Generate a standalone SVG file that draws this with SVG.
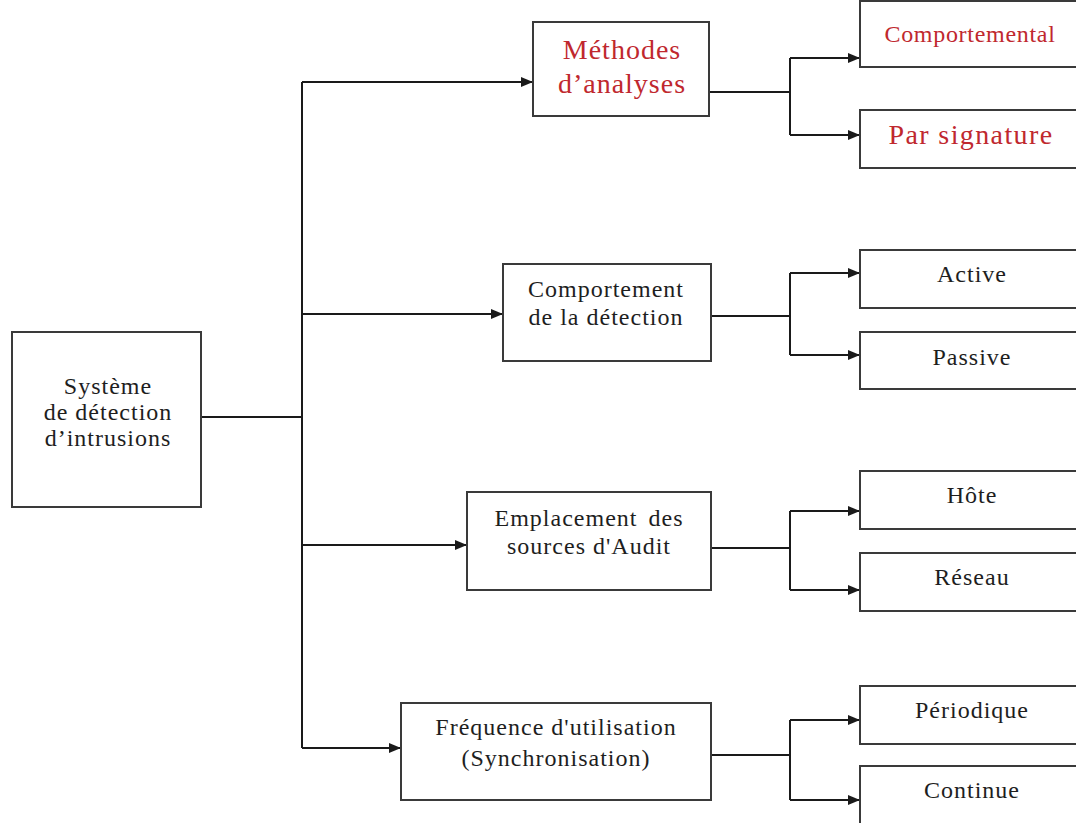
<svg xmlns="http://www.w3.org/2000/svg" width="1076" height="823" viewBox="0 0 1076 823">
  <style>
    .box { fill: #ffffff; stroke: #3a3a3a; stroke-width: 2; }
    .lbl { font-family: "Liberation Serif", "Times New Roman", serif; font-size: 24px; letter-spacing: 1px; fill: #1e1e1e; text-anchor: middle; }
    .red { fill: #c0282e; }
    .mid { letter-spacing: 0.7px; }
    .sig { font-size: 28px; letter-spacing: 1.4px; }
    .big { font-size: 28px; letter-spacing: 1px; }
    .wire { fill: none; stroke: #1a1a1a; stroke-width: 2; }
  </style>
  <defs>
    <marker id="arrow" viewBox="0 0 12 10" refX="12" refY="5" markerWidth="13" markerHeight="10" markerUnits="userSpaceOnUse" orient="auto">
      <path d="M0,0 L12,5 L0,10 Z" fill="#1a1a1a"/>
    </marker>
  </defs>
  <rect width="1076" height="823" fill="#ffffff"/>

  <!-- connectors: trunk from the root, then one fork per category -->
  <g id="connectors">
    <path class="wire" d="M201,417 H302"/>
    <path class="wire" d="M302,82 V748"/>
    <path class="wire" d="M302,82 H533" marker-end="url(#arrow)"/>
    <path class="wire" d="M302,314 H503" marker-end="url(#arrow)"/>
    <path class="wire" d="M302,545 H467" marker-end="url(#arrow)"/>
    <path class="wire" d="M302,748 H401" marker-end="url(#arrow)"/>

    <path class="wire" d="M709,92 H790"/>
    <path class="wire" d="M790,58 V135"/>
    <path class="wire" d="M790,58 H860" marker-end="url(#arrow)"/>
    <path class="wire" d="M790,135 H860" marker-end="url(#arrow)"/>

    <path class="wire" d="M711,316 H790"/>
    <path class="wire" d="M790,273 V355"/>
    <path class="wire" d="M790,273 H860" marker-end="url(#arrow)"/>
    <path class="wire" d="M790,355 H860" marker-end="url(#arrow)"/>

    <path class="wire" d="M711,548 H790"/>
    <path class="wire" d="M790,511 V590"/>
    <path class="wire" d="M790,511 H860" marker-end="url(#arrow)"/>
    <path class="wire" d="M790,590 H860" marker-end="url(#arrow)"/>

    <path class="wire" d="M711,755 H790"/>
    <path class="wire" d="M790,720 V800"/>
    <path class="wire" d="M790,720 H860" marker-end="url(#arrow)"/>
    <path class="wire" d="M790,800 H860" marker-end="url(#arrow)"/>
  </g>

  <g id="root">
    <rect class="box" x="12" y="332" width="189" height="175"/>
    <text class="lbl" x="108" y="394">Système</text>
    <text class="lbl" x="108" y="420">de détection</text>
    <text class="lbl" x="108" y="446">d’intrusions</text>
  </g>

  <g id="methodes">
    <rect class="box" x="533" y="22" width="176" height="94"/>
    <text class="lbl red big" x="622" y="59">Méthodes</text>
    <text class="lbl red big" x="622" y="93">d’analyses</text>
  </g>
  <g id="comportemental">
    <rect class="box" x="860" y="1" width="222" height="66"/>
    <text class="lbl red mid" x="970" y="42">Comportemental</text>
  </g>
  <g id="signature">
    <rect class="box" x="860" y="110" width="222" height="58"/>
    <text class="lbl red sig" x="971" y="144">Par signature</text>
  </g>

  <g id="comportement">
    <rect class="box" x="503" y="264" width="208" height="97"/>
    <text class="lbl" x="606" y="297">Comportement</text>
    <text class="lbl" x="606" y="325">de la détection</text>
  </g>
  <g id="active">
    <rect class="box" x="860" y="250" width="222" height="58"/>
    <text class="lbl" x="972" y="282">Active</text>
  </g>
  <g id="passive">
    <rect class="box" x="860" y="332" width="222" height="57"/>
    <text class="lbl" x="972" y="365">Passive</text>
  </g>

  <g id="emplacement">
    <rect class="box" x="467" y="492" width="244" height="98"/>
    <text class="lbl" x="589" y="526" word-spacing="4">Emplacement des</text>
    <text class="lbl" x="589" y="554">sources d'Audit</text>
  </g>
  <g id="hote">
    <rect class="box" x="860" y="471" width="222" height="58"/>
    <text class="lbl" x="972" y="503">Hôte</text>
  </g>
  <g id="reseau">
    <rect class="box" x="860" y="553" width="222" height="58"/>
    <text class="lbl" x="972" y="585">Réseau</text>
  </g>

  <g id="frequence">
    <rect class="box" x="401" y="703" width="310" height="97"/>
    <text class="lbl" x="556" y="735">Fréquence d'utilisation</text>
    <text class="lbl" x="556" y="766">(Synchronisation)</text>
  </g>
  <g id="periodique">
    <rect class="box" x="860" y="686" width="222" height="58"/>
    <text class="lbl" x="972" y="718">Périodique</text>
  </g>
  <g id="continue">
    <rect class="box" x="860" y="766" width="222" height="60"/>
    <text class="lbl" x="972" y="798">Continue</text>
  </g>
</svg>
